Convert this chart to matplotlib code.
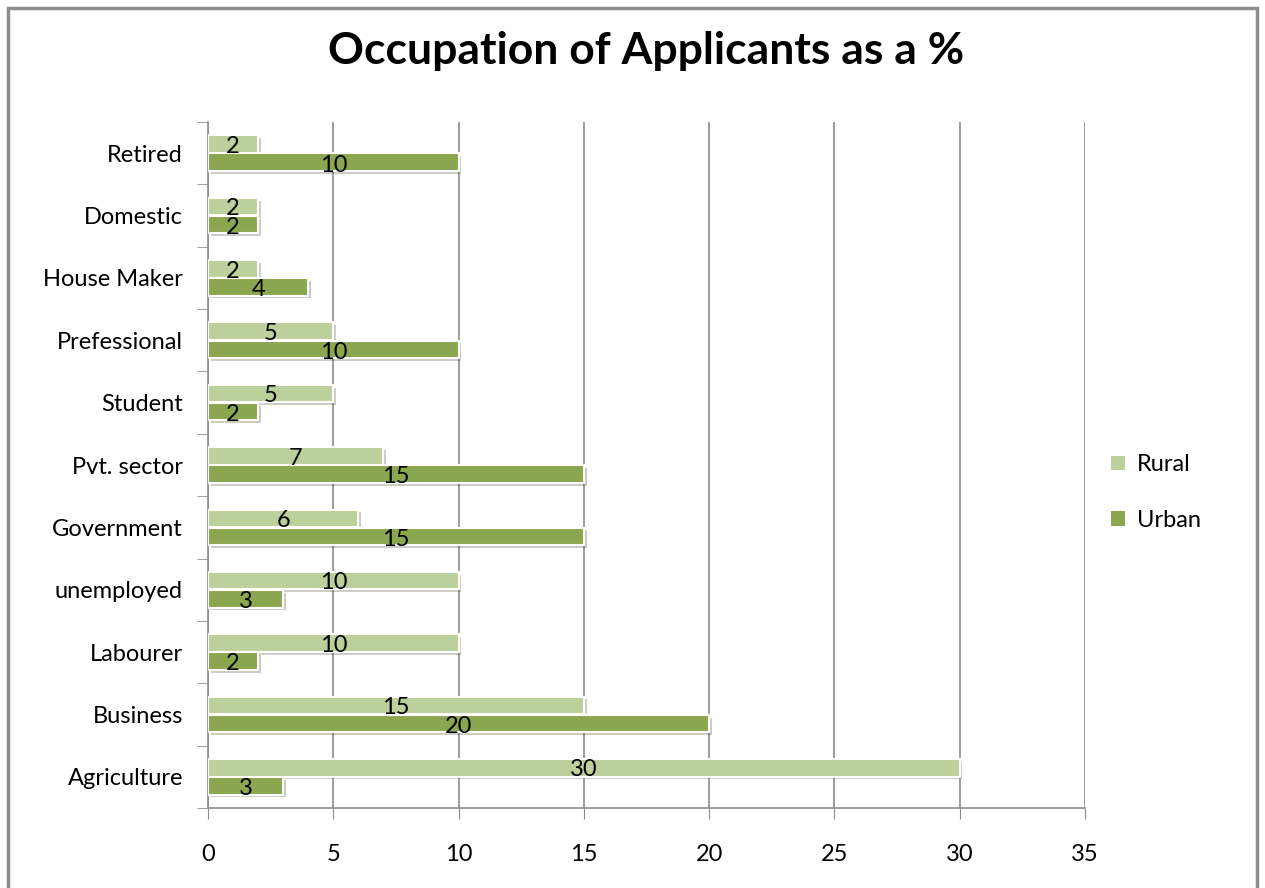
import matplotlib.pyplot as plt
import matplotlib.patheffects as pe
from matplotlib.patches import Rectangle
import numpy as np

categories = ["Agriculture", "Business", "Labourer", "unemployed", "Government",
              "Pvt. sector", "Student", "Prefessional", "House Maker", "Domestic", "Retired"]
rural = [30, 15, 10, 10, 6, 7, 5, 5, 2, 2, 2]
urban = [3, 20, 2, 3, 15, 15, 2, 10, 4, 2, 10]

plt.rcParams['font.family'] = ['Lato', 'DejaVu Sans']

fig = plt.figure(figsize=(12.65, 8.88), dpi=100)
fig.patches.append(Rectangle((8 / 1265, -0.01), 1249 / 1265, 1 - 8 / 888 + 0.01,
                             transform=fig.transFigure, fill=False,
                             edgecolor="#8c8c8c", linewidth=2.5))
ax = fig.add_axes([208 / 1265, 80 / 888, 877 / 1265, 686 / 888])

y = np.arange(len(categories))
h = 0.28
shadow = [pe.SimplePatchShadow(offset=(2, -2), alpha=0.25), pe.Normal()]
b1 = ax.barh(y + 0.145, rural, height=h, color="#bbd09a", edgecolor="white",
             linewidth=1.5, label="Rural", zorder=3)
b2 = ax.barh(y - 0.145, urban, height=h, color="#8aa64e", edgecolor="white",
             linewidth=1.5, label="Urban", zorder=3)
for b in list(b1) + list(b2):
    b.set_path_effects(shadow)

for yi, v in zip(y, rural):
    ax.text(v / 2, yi + 0.11, str(v), ha="center", va="center", fontsize=17, zorder=4)
for yi, v in zip(y, urban):
    ax.text(v / 2, yi - 0.19, str(v), ha="center", va="center", fontsize=17, zorder=4)

ax.set_xlim(0, 35)
ax.set_ylim(-0.5, len(categories) - 0.5)
ax.set_xticks(range(0, 36, 5))
ax.set_yticks(y)
ax.set_yticklabels(categories)
ax.set_yticks(np.arange(-0.5, len(categories), 1), minor=True)
ax.tick_params(axis="y", which="major", length=0, pad=18, labelsize=17)
ax.tick_params(axis="y", which="minor", length=8, color="#8c8c8c")
ax.tick_params(axis="x", length=8, color="#8c8c8c", pad=18, labelsize=17)
ax.grid(axis="x", color="#8c8c8c", linewidth=1.2, zorder=0)
for s in ["top", "right"]:
    ax.spines[s].set_visible(False)
for s in ["left", "bottom"]:
    ax.spines[s].set_color("#8c8c8c")
    ax.spines[s].set_linewidth(1.2)

ax.set_title("Occupation of Applicants as a %", fontsize=32, fontweight="bold", pad=42)
leg = ax.legend(loc="center left", bbox_to_anchor=(1.005, 0.46), frameon=False, fontsize=17,
                handlelength=0.6, handleheight=0.6, handletextpad=0.5, labelspacing=1.45)
for hnd in leg.legend_handles:
    hnd.set_path_effects([])
    hnd.set_edgecolor("none")

plt.savefig("out.png")
